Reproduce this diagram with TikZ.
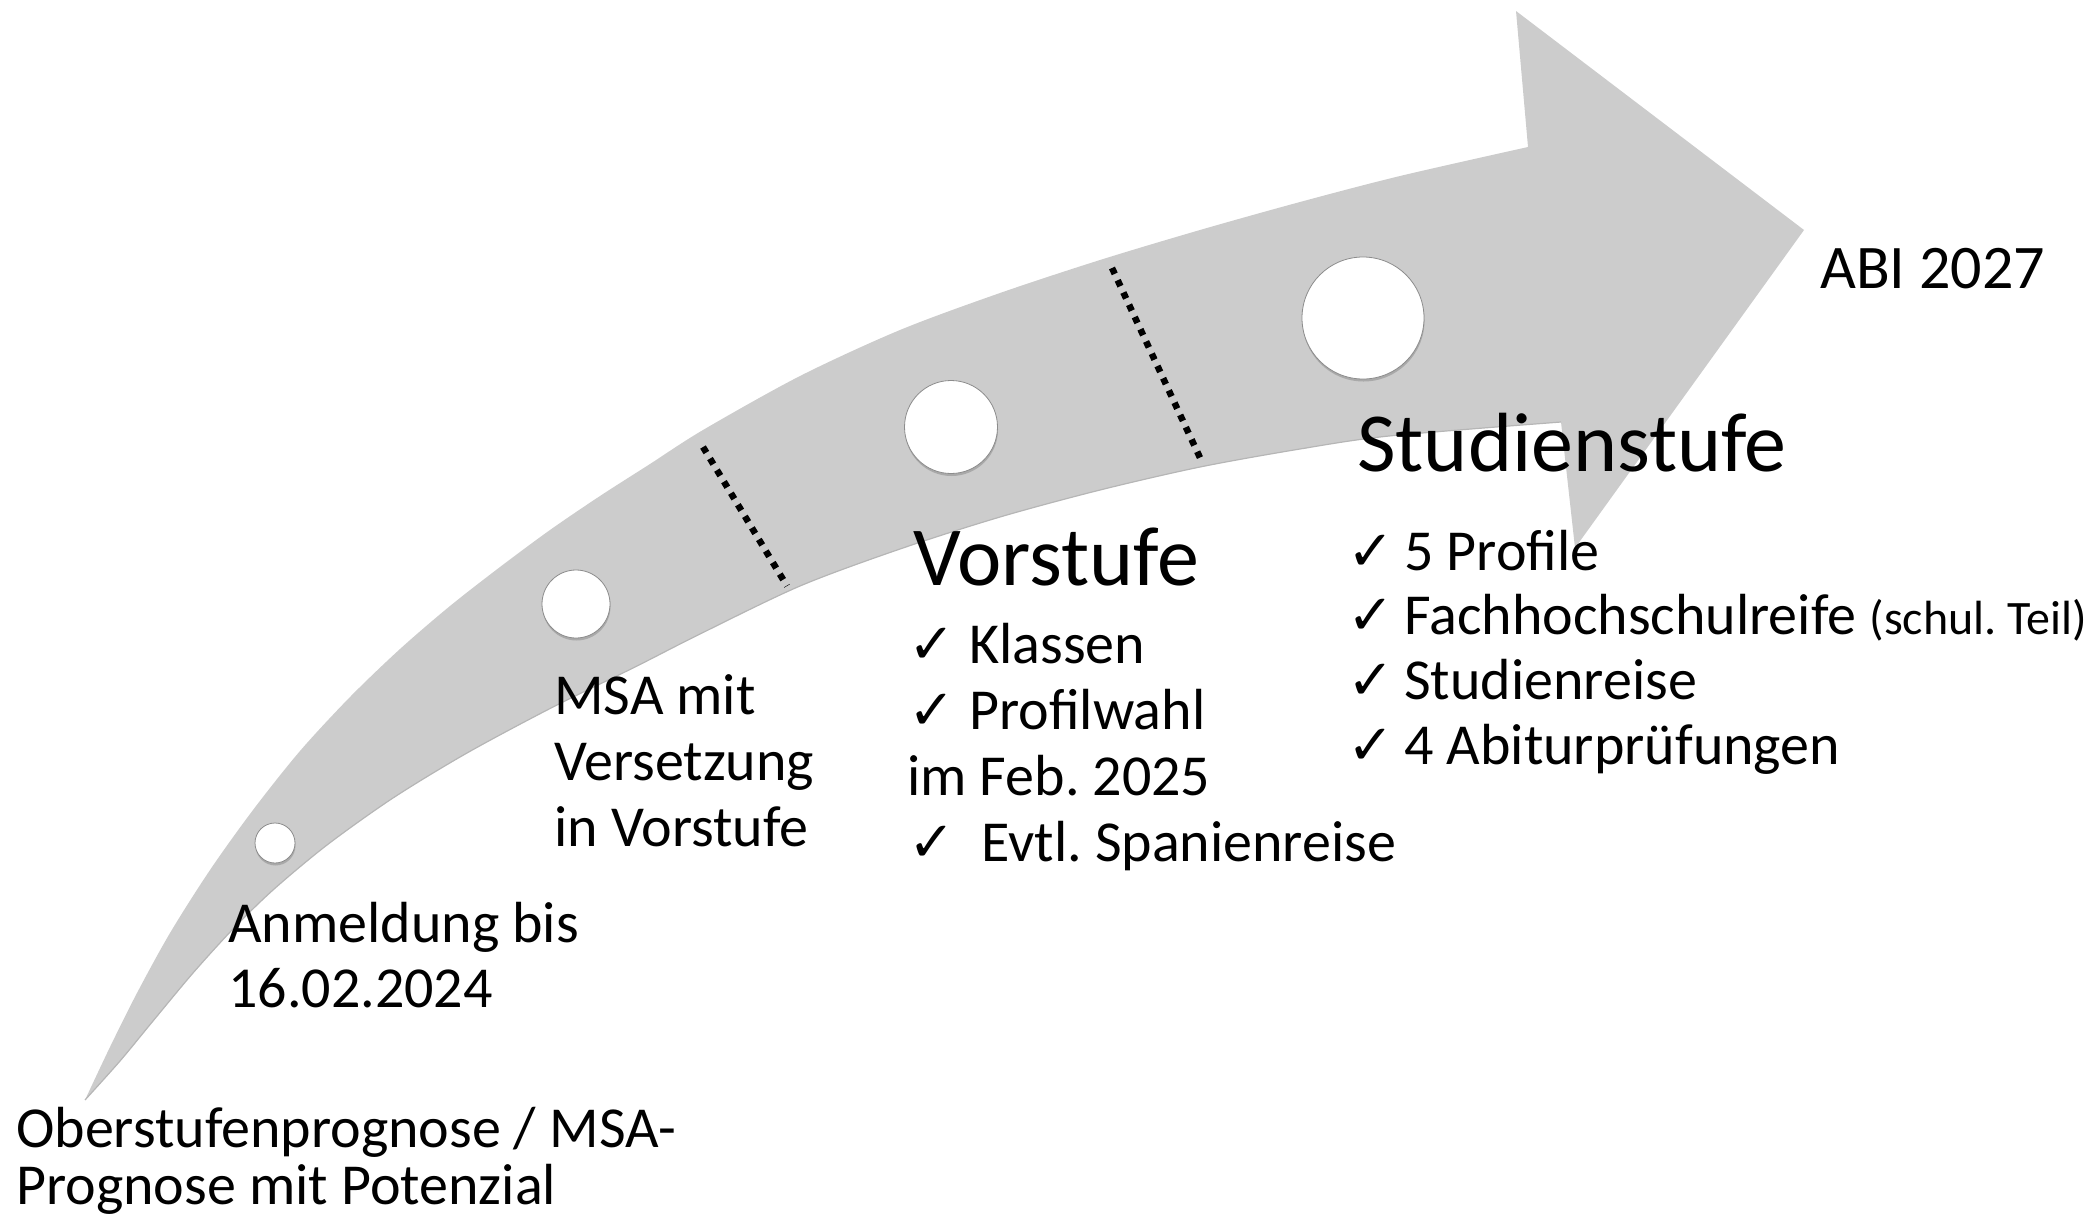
\documentclass[tikz,border=0pt]{standalone}
\usepackage{fontspec}
\setmainfont{Carlito}
\newfontfamily\checkfont{DejaVu Sans}
\usetikzlibrary{shadows}
\definecolor{bandgray}{RGB}{204,204,204}
\definecolor{bandedge}{RGB}{182,182,182}
\frenchspacing
\begin{document}
\begin{tikzpicture}[x=1pt,y=-1pt,
  body/.style={anchor=base west, inner sep=0pt, font=\fontsize{58}{70}\selectfont},
  heading/.style={anchor=base west, inner sep=0pt, font=\fontsize{84}{100}\selectfont},
  tick/.style={anchor=base west, inner sep=0pt, font=\checkfont\fontsize{56}{60}\selectfont},
  stagedot/.style={circle, fill=white, draw=black!45, line width=0.8pt, inner sep=0pt,
    drop shadow={shadow xshift=0.5pt, shadow yshift=-2.5pt, opacity=0.45}},
  sepline/.style={line width=6.5pt, dash pattern=on 6.5pt off 7pt},
  lowerrim/.style={draw=bandedge, line width=1.2pt}]
\useasboundingbox (0,0) rectangle (2093,1216);
% band arrow
\fill[bandgray] plot[smooth, tension=0.5] coordinates {(85,1100) (110,1047) (137,993) (170,933) (210,870) (253,810) (300,751) (350,697) (400,649) (450,606) (500,567) (550,530) (600,496) (650,464) (703,430) (800,376) (900,330) (1000,293) (1100,260) (1200,230) (1300,202) (1400,176) (1528,147)}
  -- (1516,11) -- (1804,230) -- (1575,548) -- (1561,422)
  -- plot[smooth, tension=0.5] coordinates {(1561,422) (1389,436) (1300,449) (1200,467) (1100,490) (1000,517) (900,549) (800,586) (700,634) (633,668) (553,707) (467,753) (393,798) (327,845) (273,890) (233,929) (193,973) (153,1021) (120,1061) (85,1100)}
  -- cycle;
\draw[lowerrim] plot[smooth, tension=0.5] coordinates {(1561,422) (1389,436) (1300,449) (1200,467) (1100,490) (1000,517) (900,549) (800,586) (700,634) (633,668) (553,707) (467,753) (393,798) (327,845) (273,890) (233,929) (193,973) (153,1021) (120,1061) (85,1100)};
% stage circles
\node[stagedot, minimum size=40pt] (c1) at (275,843) {};
\node[stagedot, minimum size=68pt] (c2) at (576,604) {};
\node[stagedot, minimum size=93pt] (c3) at (951,427) {};
\node[stagedot, minimum size=122pt] (c4) at (1363,318) {};
% separators
\coordinate (s1a) at (703,447); \coordinate (s1b) at (787,586);
\coordinate (s2a) at (1112,268); \coordinate (s2b) at (1202,462);
\draw[sepline] (s1a) -- (s1b);
\draw[sepline] (s2a) -- (s2b);
% texts
\node[body] (ober1) at (16,1147) {Oberstufenprognose / MSA-};
\node[body] (ober2) at (16,1204) {Prognose mit Potenzial};
\node[body] (anm1) at (228,942) {Anmeldung bis};
\node[body] (anm2) at (228,1007) {16.02.2024};
\node[body] (msa1) at (554,714) {MSA mit};
\node[body] (msa2) at (554,780) {Versetzung};
\node[body] (msa3) at (554,846) {in Vorstufe};
\node[heading] (vor) at (913,585) {Vorstufe};
\node[tick] (vt1) at (908,663) {✓}; \node[body] (vl1) at (969,663) {Klassen};
\node[tick] (vt2) at (908,729) {✓}; \node[body] (vl2) at (969,729) {Profilwahl};
\node[body] (vl3) at (907,795) {im Feb. 2025};
\node[tick] (vt4) at (908,861) {✓}; \node[body] (vl4) at (981,861) {Evtl. Spanienreise};
\node[heading] (stu) at (1357,471) {Studienstufe};
\node[tick] (st1) at (1347,570) {✓}; \node[body] (sl1) at (1404,570) {5 Profile};
\node[tick] (st2) at (1347,634) {✓}; \node[body] (sl2) at (1404,634) {Fachhochschulreife {\fontsize{48}{56}\selectfont (schul. Teil)}};
\node[tick] (st3) at (1347,699) {✓}; \node[body] (sl3) at (1404,699) {Studienreise};
\node[tick] (st4) at (1347,764) {✓}; \node[body] (sl4) at (1404,764) {4 Abiturprüfungen};
\node[body, font=\fontsize{62}{70}\selectfont] (abi) at (1820,288) {ABI 2027};
\end{tikzpicture}
\end{document}
